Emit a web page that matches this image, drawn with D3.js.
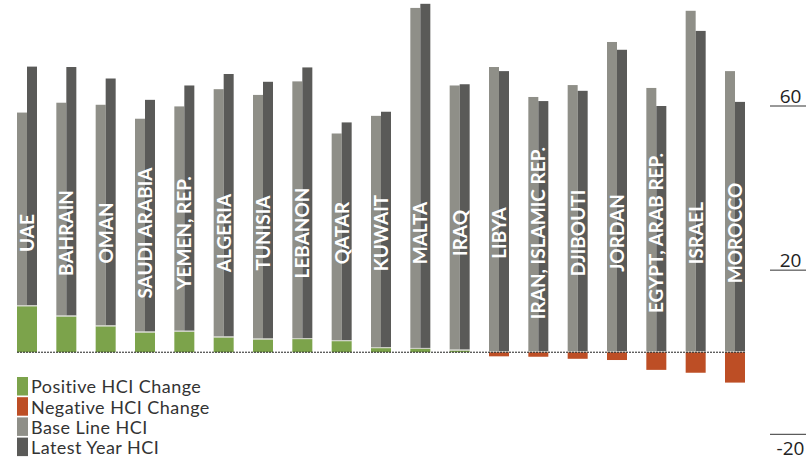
<!DOCTYPE html>
<html><head><meta charset="utf-8">
<script src="https://cdn.jsdelivr.net/npm/d3@7"></script>
<style>html,body{margin:0;padding:0;background:#fff;}svg{display:block;}</style>
</head><body>
<svg id="chart" width="806" height="460"></svg>
<script>
const countries = ["UAE","BAHRAIN","OMAN","SAUDI ARABIA","YEMEN, REP.","ALGERIA","TUNISIA","LEBANON","QATAR","KUWAIT","MALTA","IRAQ","LIBYA","IRAN, ISLAMIC REP.","DJIBOUTI","JORDAN","EGYPT, ARAB REP.","ISRAEL","MOROCCO"];
const baseLine = [47.2,52.1,54.0,52.1,54.9,60.5,59.6,62.8,50.6,56.6,83.1,64.6,69.5,62.2,65.1,75.6,64.4,83.2,68.5];
const latestYear = [58.4,60.8,60.4,56.7,60.0,64.2,62.8,66.2,53.3,57.6,84.1,64.9,68.5,61.2,63.7,73.7,60.0,78.3,61.0];
const hciChange = [11.2,8.7,6.3,4.8,5.0,3.6,3.1,3.2,2.7,1.0,0.8,0.4,-1.0,-1.1,-1.6,-1.9,-4.3,-5.0,-7.4];
const tickValues = [60,20,-20];
const legendLabels = ["Positive HCI Change","Negative HCI Change","Base Line HCI","Latest Year HCI"];
const colors = {pos:"#7ca34b", neg:"#bd4e25", base:"#8f8f88", latest:"#5a5a58", sep:"#c9cbc0"};

const svg = d3.select("#chart");
const x = d3.scaleBand().domain(countries).range([17,745]).paddingInner(0.4915).paddingOuter(0);
const y = d3.scaleLinear().domain([-20,60]).range([434.3,106]);
const bw = x.bandwidth();

const g = svg.append("g");
countries.forEach((c,i)=>{
  const x0 = x(c);
  const ch = hciChange[i];
  const start = Math.max(ch,0);
  g.append("rect").attr("x",x0).attr("width",bw)
    .attr("y", ch>=0 ? y(ch) : y(0))
    .attr("height", Math.abs(y(ch)-y(0)))
    .attr("fill", ch>=0 ? colors.pos : colors.neg);
  g.append("rect").attr("x",x0).attr("width",bw/2)
    .attr("y", y(start+baseLine[i]))
    .attr("height", y(start)-y(start+baseLine[i]) - 1)
    .attr("fill", colors.base);
  g.append("rect").attr("x",x0+bw/2).attr("width",bw/2)
    .attr("y", y(start+latestYear[i]))
    .attr("height", y(start)-y(start+latestYear[i]) - 1)
    .attr("fill", colors.latest);
  g.append("rect").attr("x",x0).attr("width",bw)
    .attr("y", y(start)-1).attr("height",1).attr("fill",colors.sep);
  g.append("text")
    .attr("transform",`translate(${x0+bw/2+7},233) rotate(-90)`)
    .attr("text-anchor","middle")
    .attr("font-family","Lato, 'Noto Sans', sans-serif")
    .attr("font-weight","700")
    .attr("font-size","19px")
    .attr("fill","#fff")
    .text(c);
});

svg.append("line").attr("x1",17).attr("x2",745).attr("y1",y(0)).attr("y2",y(0))
  .attr("stroke","#222").attr("stroke-width",1).attr("stroke-dasharray","2,1");

const ax = svg.append("g");
tickValues.forEach(v=>{
  ax.append("line").attr("x1",770).attr("x2",806).attr("y1",y(v)).attr("y2",y(v))
    .attr("stroke","#333").attr("stroke-width",1);
  ax.append("text").attr("x",790.5).attr("y", v>=0 ? y(v)-3 : y(v)+20.5)
    .attr("text-anchor","middle")
    .attr("font-family","'Open Sans', sans-serif").attr("font-size","19px")
    .attr("fill","#222").text(v);
});

const legColors = [colors.pos, colors.neg, colors.base, colors.latest];
legendLabels.forEach((l,i)=>{
  const yy = 377 + i*20.2;
  svg.append("rect").attr("x",17).attr("y",yy).attr("width",11).attr("height",18.5).attr("fill",legColors[i]);
  svg.append("text").attr("x",31).attr("y",yy+16.3)
    .attr("font-family","Lato, 'Noto Sans', sans-serif").attr("font-size","18px")
    .attr("letter-spacing","0.45px")
    .attr("fill","#333").text(l);
});
</script>
</body></html>
